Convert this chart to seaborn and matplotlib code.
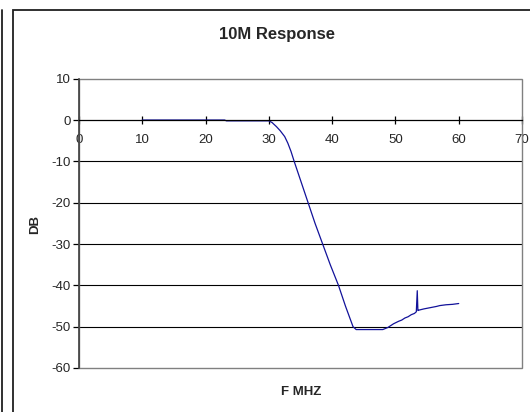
import numpy as np
import pandas as pd
import matplotlib
matplotlib.use("Agg")
import matplotlib.pyplot as plt
import seaborn as sns
from matplotlib.patches import Rectangle
from matplotlib.lines import Line2D

# ---- data ----
freq_mhz = [10, 15, 20, 23, 23.3, 26, 28, 30, 30.5, 31.2, 31.8, 32.5, 33.0, 33.5,
            34.0, 35.1, 36.2, 37.3, 38.5, 39.7, 41.0, 42.1, 43.3, 43.8, 45, 46,
            47, 48.0, 48.8, 49.7, 50.5, 51.0, 51.5, 52.0, 52.5, 53.0, 53.3, 53.45,
            53.55, 53.7, 54.5, 55.5, 56.5, 57.0, 58.0, 59.0, 60.0]
db_vals = [0.0, 0.0, 0.0, 0.0, -0.2, -0.2, -0.2, -0.2, -0.6, -1.6, -2.6, -4.0,
           -5.6, -7.6, -10.0, -15.0, -20.0, -25.0, -30.0, -35.0, -40.0, -45.0,
           -50.0, -50.7, -50.7, -50.7, -50.7, -50.7, -50.2, -49.3, -48.7, -48.4,
           -47.9, -47.6, -47.1, -46.8, -46.4, -41.3, -46.1, -46.0, -45.7, -45.4,
           -45.1, -44.9, -44.7, -44.6, -44.4]
x_ticks = [0, 10, 20, 30, 40, 50, 60, 70]
y_ticks = [-60, -50, -40, -30, -20, -10, 0, 10]
title = "10M Response"
x_label = "F MHZ"
y_label = "DB"

df = pd.DataFrame({"F": freq_mhz, "DB": db_vals})

sns.set_theme(style="white")
plt.rcParams["font.family"] = ["Liberation Sans", "DejaVu Sans"]

W, H = 530, 412
fig = plt.figure(figsize=(W / 100, H / 100), dpi=100)
fig.patch.set_facecolor("white")

# outer chart frames
fig.add_artist(Rectangle((13 / W, -0.05), 1.1, 1 - 10 / H + 0.05,
                         transform=fig.transFigure, fill=False,
                         edgecolor="#202020", linewidth=1.3))
fig.add_artist(Line2D([1.5 / W, 1.5 / W], [0, 1 - 10 / H],
                      transform=fig.transFigure, color="#202020", linewidth=1.3))

ax = fig.add_axes([79 / W, 1 - 368 / H, (522 - 79) / W, (368 - 78.7) / H])
ax.set_facecolor("white")

sns.lineplot(data=df, x="F", y="DB", ax=ax, color="#12129a", linewidth=0.9,
             estimator=None, sort=False)

ax.set_xlim(0, 70)
ax.set_ylim(-60, 10)
ax.set_xticks(x_ticks)
ax.set_yticks(y_ticks)
ax.set_xticklabels([str(t) for t in x_ticks])
ax.set_yticklabels([str(t) for t in y_ticks])

# gridlines
for yv in y_ticks:
    if yv not in (-60, 10, 0):
        ax.axhline(yv, color="#000000", linewidth=0.8, zorder=0.5)

# plot area frame
ax.add_patch(Rectangle((0, 0), 1, 1, transform=ax.transAxes, fill=False,
                       edgecolor="#808080", linewidth=1.0, zorder=0.6,
                       clip_on=False))

for s in ["top", "right"]:
    ax.spines[s].set_visible(False)
ax.spines["left"].set_color("#404040")
ax.spines["left"].set_linewidth(1.2)
ax.spines["bottom"].set_position(("data", 0))
ax.spines["bottom"].set_color("#000000")
ax.spines["bottom"].set_linewidth(0.9)

ax.tick_params(axis="x", direction="inout", length=6, width=0.9, color="#000000",
               labelsize=9.5, pad=7, bottom=True)
ax.tick_params(axis="y", direction="out", length=4, width=0.9, color="#000000",
               labelsize=9.5, pad=2, left=True)

ax.set_xlabel("")
ax.set_ylabel("")
fig.text(301 / W, 1 - 392 / H, x_label, ha="center", va="center",
         fontsize=9.5, fontweight="bold")
fig.text(35 / W, 1 - 224 / H, y_label, ha="center", va="center",
         fontsize=9.5, fontweight="bold", rotation=90)
fig.text(277 / W, 1 - 34 / H, title, ha="center", va="center",
         fontsize=12, fontweight="bold")

fig.savefig("out.png", dpi=100, facecolor="white")
